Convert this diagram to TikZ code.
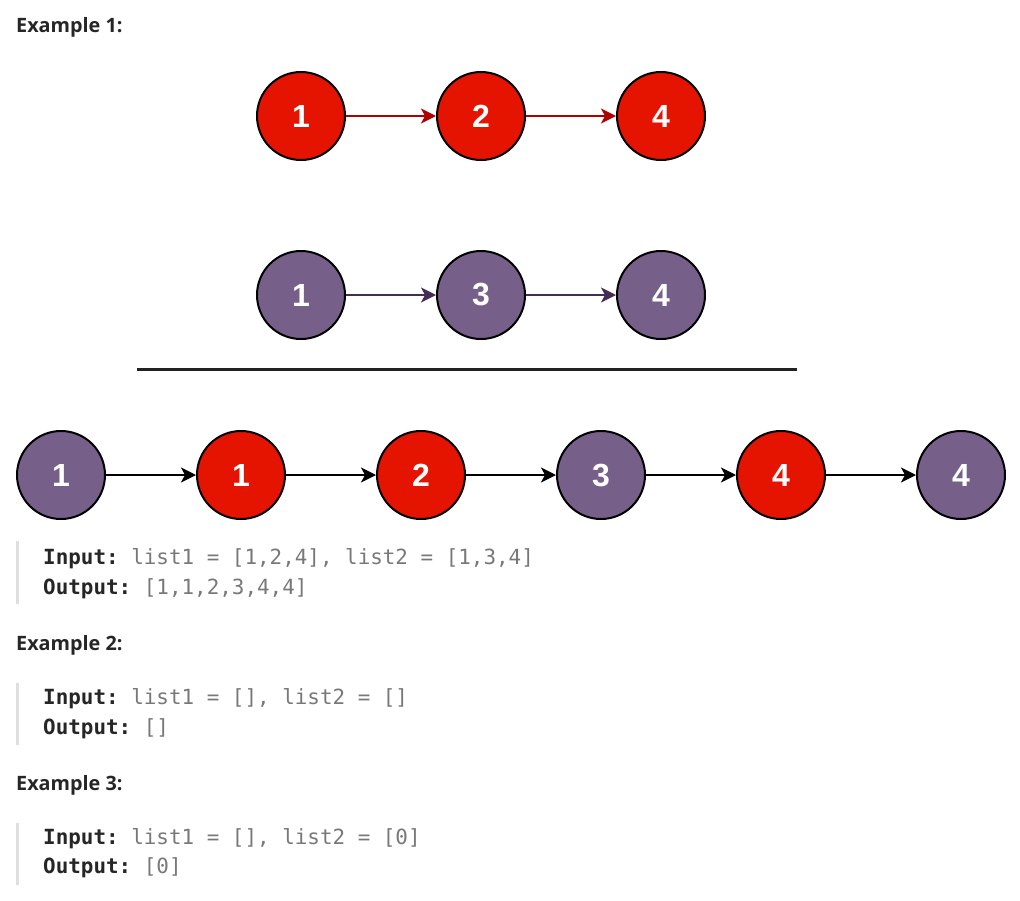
\documentclass[tikz,border=0pt]{standalone}
\usepackage{fontspec}
\setmainfont{Open Sans}
\setmonofont{DejaVu Sans Mono}
\newfontfamily\numfont{Liberation Sans}
\usepackage{tikz}
\usetikzlibrary{arrows.meta}

\definecolor{listred}{HTML}{E51400}
\definecolor{listpurple}{HTML}{76608A}
\definecolor{redline}{HTML}{B20000}
\definecolor{purpleline}{HTML}{432D57}
\definecolor{headgrey}{HTML}{262626}
\definecolor{codedark}{HTML}{262626}
\definecolor{codegrey}{HTML}{787878}
\definecolor{bargrey}{HTML}{DFDFDF}
\definecolor{sepgrey}{HTML}{222222}

\tikzset{
  elem/.style={circle, draw=black, line width=2pt, minimum size=88pt, inner sep=0pt,
    text=white, font=\numfont\bfseries\fontsize{32}{32}\selectfont},
  redelem/.style={elem, fill=listred},
  purpleelem/.style={elem, fill=listpurple},
  nextptr/.style={-{Stealth[length=15pt,width=15pt,inset=4pt]}, line width=2pt},
  heading/.style={anchor=west, inner sep=0pt, text=headgrey,
    font=\bfseries\fontsize{19.8}{23}\selectfont},
  codeline/.style={anchor=west, inner sep=0pt, text=codegrey,
    font=\ttfamily\fontsize{20.9}{25}\selectfont},
  quotebar/.style={line width=3pt, draw=bargrey}
}

\newcommand{\inlabel}{\textcolor{codedark}{\bfseries Input:}}
\newcommand{\outlabel}{\textcolor{codedark}{\bfseries Output:}}

\begin{document}
\begin{tikzpicture}[x=1pt,y=-1pt]
\useasboundingbox (0,0) rectangle (1020,900);
%
\node[heading] (ex1) at (16,27) {Example 1:};
%
\node[redelem] (a1) at (301,116) {1};
\node[redelem] (a2) at (481,116) {2};
\node[redelem] (a3) at (661,116) {4};
\draw[nextptr, redline] (a1) -- (a2);
\draw[nextptr, redline] (a2) -- (a3);
%
\node[purpleelem] (b1) at (301,295) {1};
\node[purpleelem] (b2) at (481,295) {3};
\node[purpleelem] (b3) at (661,295) {4};
\draw[nextptr, purpleline] (b1) -- (b2);
\draw[nextptr, purpleline] (b2) -- (b3);
%
\coordinate (sepL) at (137,369);
\coordinate (sepR) at (797,369);
\draw[line width=3pt, sepgrey] (sepL) -- (sepR);
%
\node[purpleelem] (m1) at (61,475) {1};
\node[redelem] (m2) at (241,475) {1};
\node[redelem] (m3) at (421,475) {2};
\node[purpleelem] (m4) at (601,475) {3};
\node[redelem] (m5) at (781,475) {4};
\node[purpleelem] (m6) at (961,475) {4};
\foreach \i/\j in {m1/m2,m2/m3,m3/m4,m4/m5,m5/m6}
  \draw[nextptr, black] (\i) -- (\j);
%
\draw[quotebar] (17,541) -- (17,604);
\node[codeline] (in1) at (43,559) {\inlabel{} list1 = [1,2,4], list2 = [1,3,4]};
\node[codeline] (out1) at (43,589) {\outlabel{} [1,1,2,3,4,4]};
%
\node[heading] (ex2) at (16,645) {Example 2:};
\draw[quotebar] (17,683) -- (17,745);
\node[codeline] (in2) at (43,699) {\inlabel{} list1 = [], list2 = []};
\node[codeline] (out2) at (43,729) {\outlabel{} []};
%
\node[heading] (ex3) at (16,785) {Example 3:};
\draw[quotebar] (17,823) -- (17,885);
\node[codeline] (in3) at (43,839) {\inlabel{} list1 = [], list2 = [0]};
\node[codeline] (out3) at (43,868) {\outlabel{} [0]};
\end{tikzpicture}
\end{document}
